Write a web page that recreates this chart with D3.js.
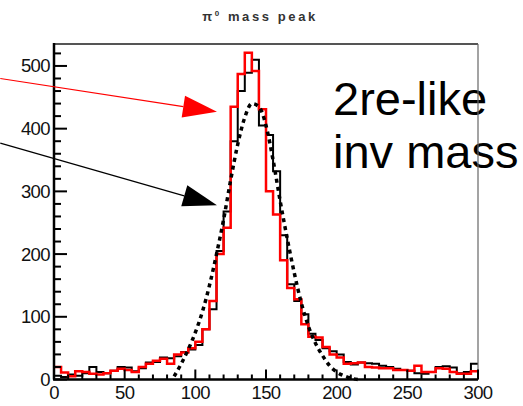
<!DOCTYPE html>
<html lang="en">
<head>
<meta charset="UTF-8">
<title>pi0 mass peak</title>
<script src="https://d3js.org/d3.v7.min.js"></script>
<style>
  body { margin: 0; background: #fff; }
  text { font-family: "Liberation Sans", Arial, sans-serif; }
</style>
</head>
<body>
<svg width="523" height="406"></svg>
<script>
// bins of 5 units from 0 to 300, counts
const binWidth = 5;
const redCounts = [
  20, 11, 5, 13, 12, 9, 8, 10, 14, 17,
  15, 12, 20, 25, 30, 33, 25, 40, 43, 50,
  60, 80, 125, 200, 242, 435, 487, 521, 492, 431,
  300, 263, 190, 146, 128, 88, 68, 67, 52, 40,
  35, 25, 26, 27, 20, 19, 18, 18, 15, 15,
  14, 22, 12, 12, 18, 17, 12, 9, 9, 13
];
const blackCounts = [
  6, 4, 8, 6, 10, 20, 12, 10, 14, 20,
  19, 13, 18, 27, 28, 35, 34, 37, 44, 48,
  55, 80, 112, 205, 268, 380, 460, 489, 510, 405,
  390, 332, 230, 152, 125, 104, 73, 63, 50, 45,
  40, 28, 24, 27, 26, 25, 22, 20, 17, 15,
  14, 10, 9, 12, 20, 21, 19, 10, 12, 25
];
// dotted fit curve
const fitX = [85, 90, 95, 100, 105, 110, 115, 120, 125, 130, 135, 140, 145, 150, 155, 160, 165, 170, 175, 180, 185, 190, 195, 200, 205, 210, 215];
const fitY = [5, 25, 48, 75, 108, 150, 200, 255, 318, 375, 418, 440, 435, 405, 350, 285, 225, 170, 122, 85, 58, 38, 22, 12, 6, 2, 0];

const xTicks = [0, 50, 100, 150, 200, 250, 300];
const yTicks = [0, 100, 200, 300, 400, 500];

const svg = d3.select("svg"),
  margin = { top: 44, right: 45, bottom: 26.5, left: 54 },
  width = +svg.attr("width") - margin.left - margin.right,
  height = +svg.attr("height") - margin.top - margin.bottom;

const x = d3.scaleLinear().domain([0, 300]).range([margin.left, margin.left + width]);
const y = d3.scaleLinear().domain([0, 535]).range([margin.top + height, margin.top]);

// title
const title = svg.append("text")
  .attr("x", 260).attr("y", 21)
  .attr("text-anchor", "middle")
  .attr("font-size", "13px")
  .attr("font-weight", "bold")
  .attr("letter-spacing", "2.6px")
  .attr("fill", "#333");
title.append("tspan").text("π");
title.append("tspan").attr("font-size", "8px").attr("dy", "-5").text("0");
title.append("tspan").attr("dy", "5").text(" mass peak");

// annotation text
svg.append("text")
  .attr("x", 333).attr("y", 115)
  .attr("font-size", "47px")
  .text("2re-like");
svg.append("text")
  .attr("x", 333).attr("y", 168)
  .attr("font-size", "47px")
  .text("inv mass");

// histograms as steps
function stepPoints(counts) {
  const pts = counts.map((c, i) => [i * binWidth, c]);
  pts.push([counts.length * binWidth, counts[counts.length - 1]]);
  return pts;
}
const step = d3.line()
  .x(d => x(d[0]))
  .y(d => y(d[1]))
  .curve(d3.curveStepAfter);

const plot = svg.append("g");
plot.append("path")
  .attr("fill", "none")
  .attr("stroke", "#000")
  .attr("stroke-width", 2)
  .attr("d", step(stepPoints(blackCounts)));
plot.append("path")
  .attr("fill", "none")
  .attr("stroke", "#ff0000")
  .attr("stroke-width", 2.5)
  .attr("d", step(stepPoints(redCounts)));

const fitLine = d3.line()
  .x(d => x(d[0]))
  .y(d => y(d[1]))
  .curve(d3.curveMonotoneX);
plot.append("path")
  .attr("fill", "none")
  .attr("stroke", "#000")
  .attr("stroke-width", 3.5)
  .attr("stroke-dasharray", "4,4")
  .attr("d", fitLine(fitX.map((v, i) => [v, fitY[i]])));

// frame
svg.append("line")
  .attr("x1", x(0)).attr("x2", x(300)).attr("y1", y(535)).attr("y2", y(535))
  .attr("stroke", "#555").attr("stroke-width", 2);
svg.append("line")
  .attr("x1", x(300)).attr("x2", x(300)).attr("y1", y(535)).attr("y2", y(0))
  .attr("stroke", "#666").attr("stroke-width", 1.2);

// y axis, ticks inside
const yAxis = svg.append("g");
yAxis.append("line")
  .attr("x1", x(0)).attr("x2", x(0)).attr("y1", y(535) - 1).attr("y2", y(0))
  .attr("stroke", "#000").attr("stroke-width", 2.5);
yAxis.selectAll(".ytick")
  .data(d3.range(0, 535, 20))
  .enter().append("line")
  .attr("x1", x(0))
  .attr("x2", d => x(0) + (d % 100 === 0 ? 13 : 7))
  .attr("y1", d => y(d)).attr("y2", d => y(d))
  .attr("stroke", "#000").attr("stroke-width", 2);
yAxis.selectAll(".ylabel")
  .data(yTicks)
  .enter().append("text")
  .attr("x", x(0) - 4)
  .attr("y", d => y(d))
  .attr("dy", "0.35em")
  .attr("text-anchor", "end")
  .attr("font-size", "18.5px")
  .attr("letter-spacing", "-0.6px")
  .attr("fill", "#111")
  .text(d => d);

// x axis, ticks pointing up
const xAxis = svg.append("g");
xAxis.append("line")
  .attr("x1", x(0) - 1).attr("x2", x(300)).attr("y1", y(0)).attr("y2", y(0))
  .attr("stroke", "#000").attr("stroke-width", 2.5);
xAxis.selectAll(".xtick")
  .data(d3.range(0, 301, 10))
  .enter().append("line")
  .attr("x1", d => x(d)).attr("x2", d => x(d))
  .attr("y1", y(0))
  .attr("y2", d => y(0) - (d % 50 === 0 ? 10 : 5))
  .attr("stroke", "#000").attr("stroke-width", 2);
xAxis.selectAll(".xlabel")
  .data(xTicks)
  .enter().append("text")
  .attr("x", d => x(d))
  .attr("y", y(0) + 19)
  .attr("text-anchor", "middle")
  .attr("font-size", "18.5px")
  .attr("letter-spacing", "-0.6px")
  .attr("fill", "#111")
  .text(d => d);

// arrows
const arrows = [
  { color: "#ff0000", from: [-38, 480], to: [115.3, 427] },
  { color: "#000000", from: [-38, 377], to: [115.3, 278] }
];
arrows.forEach(a => {
  const x0 = x(a.from[0]), y0 = y(a.from[1]);
  const x1 = x(a.to[0]), y1 = y(a.to[1]);
  const ang = Math.atan2(y1 - y0, x1 - x0);
  const len = 34, half = 11;
  const bx = x1 - len * Math.cos(ang), by = y1 - len * Math.sin(ang);
  svg.append("line")
    .attr("x1", x0).attr("y1", y0).attr("x2", bx).attr("y2", by)
    .attr("stroke", a.color).attr("stroke-width", 1.2);
  const px = -Math.sin(ang) * half, py = Math.cos(ang) * half;
  svg.append("path")
    .attr("d", `M${x1},${y1}L${bx + px},${by + py}L${bx - px},${by - py}Z`)
    .attr("fill", a.color);
});
</script>
</body>
</html>
